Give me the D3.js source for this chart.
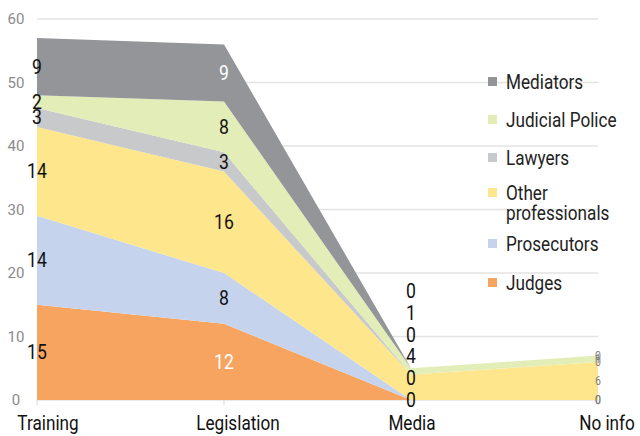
<!DOCTYPE html>
<html><head><meta charset="utf-8">
<script src="https://cdn.jsdelivr.net/npm/d3@7"></script>
<style>body{margin:0;background:#fff;} svg{display:block;font-family:"Roboto",sans-serif;}</style>
</head><body><svg id="c" width="640" height="436"></svg>
<script>
const categories = ["Training","Legislation","Media","No info"];
const seriesNames = ["Judges","Prosecutors","Other professionals","Lawyers","Judicial Police","Mediators"];
const judges = [15,12,0,0];
const prosecutors = [14,8,0,0];
const otherProfessionals = [14,16,4,6];
const lawyers = [3,3,0,0];
const judicialPolice = [2,8,1,1];
const mediators = [9,9,0,0];
const yTicks = [0,10,20,30,40,50,60];
const colors = ["#F7A460","#C5D4EC","#FEE68C","#C8C9CB","#E3EDB8","#939598"];

const values = [judges,prosecutors,otherProfessionals,lawyers,judicialPolice,mediators];
const table = categories.map((c,i)=>{const o={cat:c}; seriesNames.forEach((s,j)=>o[s]=values[j][i]); return o;});
const stacked = d3.stack().keys(seriesNames)(table);

const svg = d3.select("#c");
const x = d3.scalePoint().domain(categories).range([37,598]);
const y = d3.scaleLinear().domain([0,60]).range([400,19]);
const SX = 0.88;

function ctext(g, px, py, txt, fs, fill, anchor){
  return g.append("text").attr("transform",`translate(${px},${py}) scale(${SX},1)`)
    .attr("font-size",fs).attr("fill",fill).attr("text-anchor",anchor||"start").text(txt);
}

// grid
svg.append("g").selectAll("line").data(yTicks).join("line")
  .attr("x1",37).attr("x2",598).attr("y1",d=>y(d)).attr("y2",d=>y(d))
  .attr("stroke","#e3e3e3").attr("stroke-width",1.3);
svg.append("g").selectAll("text").data(yTicks).join("text")
  .attr("x",16).attr("y",d=>y(d)+5).attr("text-anchor","middle")
  .attr("font-size",15).attr("fill","#8a8a8a").text(d=>d);

const area = d3.area().x(d=>x(d.data.cat)).y0(d=>y(d[0])).y1(d=>y(d[1]));
svg.append("g").selectAll("path").data(stacked).join("path")
  .attr("d",area).attr("fill",(d,i)=>colors[i]);

// axis ticks
svg.append("g").selectAll("line").data(categories).join("line")
  .attr("x1",d=>x(d)).attr("x2",d=>x(d)).attr("y1",400).attr("y2",405).attr("stroke","#d9d9d9");
const catDx = [11,14,1,9];
const xg = svg.append("g");
categories.forEach((c,i)=>ctext(xg, x(c)+catDx[i], 430, c, 19.5, "#111", "middle"));

// data labels
const labelG = svg.append("g");
stacked.forEach((s,si)=>{
  s.forEach((d,ci)=>{
    const cat = categories[ci];
    let yy, fs=20, fill="#111";
    if (cat==="Media") { yy = y(0) - si*21.8; }
    else { yy = y((d[0]+d[1])/2); }
    if (cat==="No info") { fs=12; fill="#7f7f7f"; }
    if (cat==="Legislation" && (si===0 || si===5)) fill="#fff";
    ctext(labelG, x(cat), yy+(fs===20?7:4), d[1]-d[0], fs, fill, "middle");
  });
});

// legend
const legY = [82,120,158,193,244,283];
const order = [5,4,3,2,1,0];
const lg = svg.append("g");
order.forEach((si,k)=>{
  lg.append("rect").attr("x",488).attr("y",legY[k]-5).attr("width",9).attr("height",9).attr("fill",colors[si]);
  if (seriesNames[si]==="Other professionals") {
    ctext(lg, 506, legY[k]+7, "Other", 19.5, "#222");
    ctext(lg, 506, legY[k]+27, "professionals", 19.5, "#222");
  } else ctext(lg, 506, legY[k]+7, seriesNames[si], 19.5, "#222");
});
</script></body></html>
